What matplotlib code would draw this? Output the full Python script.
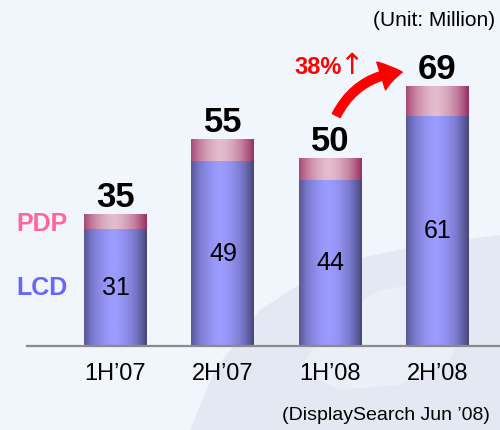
import numpy as np
import matplotlib
matplotlib.use("Agg")
import matplotlib.pyplot as plt
from matplotlib.colors import LinearSegmentedColormap
from matplotlib.patches import FancyArrowPatch, Polygon

plt.rcParams['font.family'] = ['Liberation Sans', 'DejaVu Sans']

# data (million units)
periods = ['1H\u201907', '2H\u201907', '1H\u201908', '2H\u201908']
lcd = [31, 49, 44, 61]
pdp = [4, 6, 6, 8]
totals = [35, 55, 50, 69]
growth_label = '38%'

bg = '#f1f5fc'
lcd_cmap = LinearSegmentedColormap.from_list('lcd', ['#48487a', '#7878cc', '#9c9cff'])
pdp_cmap = LinearSegmentedColormap.from_list('pdp', ['#953264', '#c47c9d', '#e2bdcd'])

fig = plt.figure(figsize=(5, 4.3), dpi=100, facecolor=bg)

# faint watermark in the background
wm = Polygon([[190, 0], [215, 60], [260, 120], [330, 165], [420, 185], [500, 195],
              [500, 0]], closed=True, transform=None, facecolor='#e3e8f2',
             edgecolor='none', zorder=-2)
fig.patches.append(wm)
wm2 = Polygon([[300, 60], [330, 110], [380, 140], [440, 150], [470, 120], [450, 70],
               [400, 45], [340, 40]], closed=True, transform=None, facecolor='#ebeff7',
              edgecolor='none', zorder=-1)
fig.patches.append(wm2)

ax = fig.add_axes([0.054, 0.1953, 0.946, 0.8047])
ax.set_facecolor('none')

x = np.arange(len(periods))
w = 0.587
b1 = ax.bar(x, lcd, w, color='none', edgecolor='none')
b2 = ax.bar(x, pdp, w, bottom=lcd, color='none', edgecolor='none')

t = np.linspace(0, 1, 80)
grad = np.clip(1 - (np.abs(t - 0.47) / 0.53) ** 1.6, 0, 1)[None, :]
for bars, cmap in [(b1, lcd_cmap), (b2, pdp_cmap)]:
    for r in bars:
        im = ax.imshow(grad, extent=[r.get_x(), r.get_x() + r.get_width(),
                                     r.get_y(), r.get_y() + r.get_height()],
                       aspect='auto', cmap=cmap, vmin=0, vmax=1, zorder=2)
        im.set_clip_path(r)

for i in range(len(periods)):
    ax.annotate(str(totals[i]), (x[i], totals[i]), xytext=(0, 5), textcoords='offset points',
                ha='center', va='baseline', fontsize=25, fontweight='bold', color='black', zorder=5)
    ax.text(x[i], lcd[i] / 2, str(lcd[i]), ha='center', va='center', fontsize=18,
            color='black', zorder=5)

# series labels next to first bar
ax.text(-0.45, lcd[0] + pdp[0] / 2 - 0.5, 'PDP', ha='right', va='center', fontsize=18,
        fontweight='bold', color='#ff6699')
ax.text(-0.45, lcd[0] / 2, 'LCD', ha='right', va='center', fontsize=18,
        fontweight='bold', color='#6666ff')

# growth arrow
arr = FancyArrowPatch((335, 312), (405, 358), transform=None, connectionstyle='arc3,rad=-0.3',
                      arrowstyle='simple,head_length=1.1,head_width=1.5,tail_width=0.45',
                      mutation_scale=14, color='red', zorder=6)
fig.patches.append(arr)
fig.text(294 / 500, 1 - 68 / 430, growth_label, ha='left', va='center', fontsize=17,
         fontweight='bold', color='red')
fig.text(351 / 500, 1 - 66 / 430, '\u2191', ha='center', va='center', fontsize=21,
         color='red', family=['DejaVu Sans'])

ax.set_xlim(-0.825, 3.583)
ax.set_ylim(0, 91.8)
ax.set_xticks(x)
ax.set_xticklabels(periods, fontsize=17)
ax.tick_params(axis='x', length=0, pad=12)
ax.set_yticks([])
for s in ['top', 'right', 'left']:
    ax.spines[s].set_visible(False)
ax.spines['bottom'].set_color('#8a8a8a')
ax.spines['bottom'].set_linewidth(1.6)

fig.text(495 / 500, 1 - 20 / 430, '(Unit: Million)', ha='right', va='center', fontsize=15)
fig.text(490 / 500, 1 - 415 / 430, '(DisplaySearch Jun \u201908)', ha='right', va='center',
         fontsize=14)

fig.savefig('out.png', dpi=100, facecolor=bg)
